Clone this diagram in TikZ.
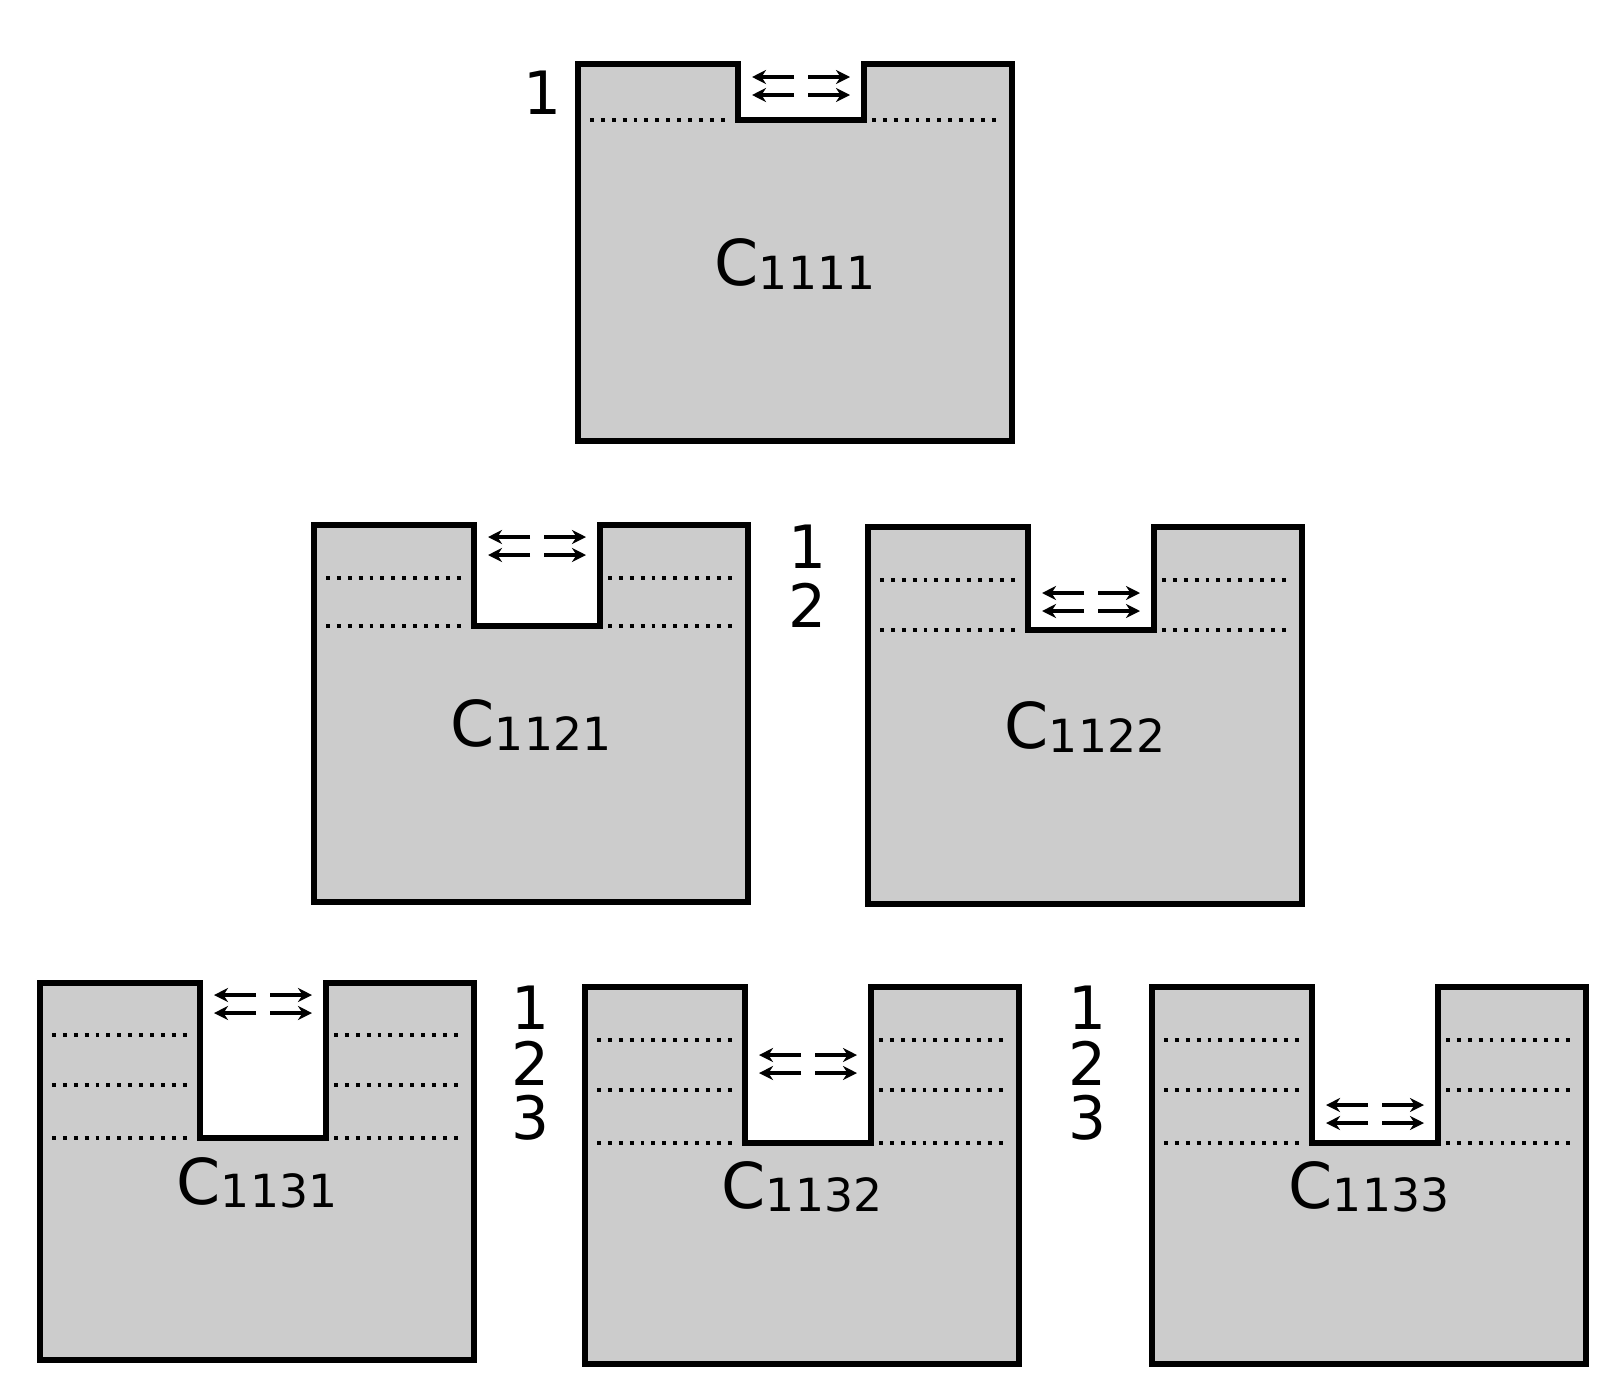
\documentclass[tikz,border=0pt]{standalone}
\usepackage{fontspec}
\setmainfont{DejaVu Sans}
\usetikzlibrary{arrows.meta}
\definecolor{blockgray}{RGB}{204,204,204}
\tikzset{
  block/.style={draw=black, fill=blockgray, line width=1.6pt, line join=miter},
  level/.style={dotted, line width=1.1pt},
  flow/.style={-{Stealth[length=4pt,width=4pt]}, line width=1.2pt},
  lvl/.style={font=\fontsize{17}{20}\selectfont, inner sep=0pt},
  cname/.style={inner sep=0pt}
}
% block with notch: #1 name, #2 left x, #3 top y, #4 notch bottom y
\newcommand{\notchbox}[4]{
  \draw[block] (#2,#3) -- ++(160,0) -- (#2+160,#4) -- (#2+286,#4) -- (#2+286,#3)
    -- (#2+434,#3) -- (#2+434,#3+377) -- (#2,#3+377) -- cycle;
  \node[cname] (#1) at (#2+217,#3+200)
    {\fontsize{18}{22}\selectfont C\fontsize{13}{16}\selectfont\raisebox{-1pt}{#1}};
}
% dotted level line: #1 left x, #2 y
\newcommand{\levelline}[2]{
  \draw[level] (#1+12,#2) -- (#1+150,#2);
  \draw[level] (#1+294,#2) -- (#1+424,#2);
}
% arrow pair in notch: #1 left x of block, #2 y
\newcommand{\arrowpair}[2]{
  \coordinate (la#1-#2) at (#1+216,#2); \coordinate (lb#1-#2) at (#1+174,#2);
  \coordinate (ra#1-#2) at (#1+230,#2); \coordinate (rb#1-#2) at (#1+272,#2);
  \coordinate (lc#1-#2) at (#1+216,#2+18); \coordinate (ld#1-#2) at (#1+174,#2+18);
  \coordinate (rc#1-#2) at (#1+230,#2+18); \coordinate (rd#1-#2) at (#1+272,#2+18);
  \draw[flow] (la#1-#2) -- (lb#1-#2);
  \draw[flow] (lc#1-#2) -- (ld#1-#2);
  \draw[flow] (ra#1-#2) -- (rb#1-#2);
  \draw[flow] (rc#1-#2) -- (rd#1-#2);
}
\begin{document}
\begin{tikzpicture}[x=0.1mm,y=-0.1mm]
\useasboundingbox (0,0) rectangle (1610,1393);
% top row
\notchbox{1111}{578}{64}{120}
\levelline{578}{120}
\arrowpair{578}{77}
\node[lvl] (n1a) at (542,93) {1};
% middle row
\notchbox{1121}{314}{525}{626}
\foreach \y in {578,626} \levelline{314}{\y};
\arrowpair{314}{537}
\notchbox{1122}{868}{527}{630}
\foreach \y in {580,630} \levelline{868}{\y};
\arrowpair{868}{593}
\node[lvl] (n2a) at (807,547) {1};
\node[lvl] (n2b) at (807,605) {2};
% bottom row
\notchbox{1131}{40}{983}{1138}
\foreach \y in {1035,1085,1138} \levelline{40}{\y};
\arrowpair{40}{995}
\notchbox{1132}{585}{987}{1143}
\foreach \y in {1040,1090,1143} \levelline{585}{\y};
\arrowpair{585}{1055}
\notchbox{1133}{1152}{987}{1143}
\foreach \y in {1040,1090,1143} \levelline{1152}{\y};
\arrowpair{1152}{1105}
\foreach \x/\s in {530/a,1087/b}{
  \node[lvl] (n3\s1) at (\x,1008) {1};
  \node[lvl] (n3\s2) at (\x,1063) {2};
  \node[lvl] (n3\s3) at (\x,1118) {3};
}
\end{tikzpicture}
\end{document}
